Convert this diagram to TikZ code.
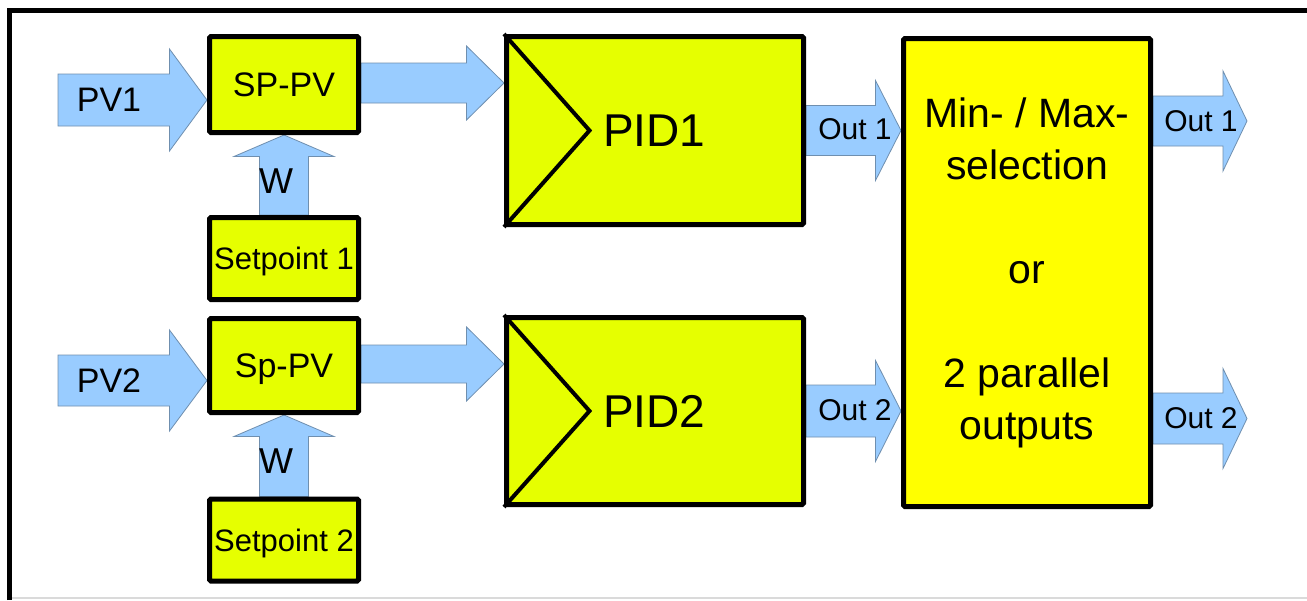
\documentclass[tikz,border=0pt]{standalone}
\usepackage{fontspec}
\setmainfont{Liberation Sans}
\usetikzlibrary{calc}
\pgfdeclarelayer{bg}
\pgfsetlayers{bg,main}
\definecolor{arrowblue}{HTML}{99CCFF}
\definecolor{arrowedge}{HTML}{6F8FAF}
\definecolor{boxyellow}{HTML}{E6FF00}
\definecolor{bigyellow}{HTML}{FFFF00}
\definecolor{framegray}{HTML}{DADADA}
% horizontal block arrow: start, end, shaft half width, head half width, head length
\newcommand\harrow[5]{%
  \begin{pgfonlayer}{bg}
  \filldraw[blockarrow] let \p1=(#1), \p2=(#2) in
    (\x1,\y1+#3pt) -- (\x2-#5pt,\y1+#3pt) -- (\x2-#5pt,\y1+#4pt) -- (\x2,\y1)
    -- (\x2-#5pt,\y1-#4pt) -- (\x2-#5pt,\y1-#3pt) -- (\x1,\y1-#3pt) -- cycle;
  \end{pgfonlayer}}
% vertical (upward) block arrow
\newcommand\varrow[5]{%
  \begin{pgfonlayer}{bg}
  \filldraw[blockarrow] let \p1=(#1), \p2=(#2) in
    (\x1+#3pt,\y1) -- (\x1+#3pt,\y2-#5pt) -- (\x1+#4pt,\y2-#5pt) -- (\x1,\y2)
    -- (\x1-#4pt,\y2-#5pt) -- (\x1-#3pt,\y2-#5pt) -- (\x1-#3pt,\y1) -- cycle;
  \end{pgfonlayer}}
\tikzset{
  blockarrow/.style={fill=arrowblue, draw=arrowedge, line width=0.8pt, line join=miter},
  ybox/.style={draw=black, fill=boxyellow, line width=5pt, rounded corners=1.5pt,
    inner sep=0pt, text depth=0pt},
  smallbox/.style={ybox, minimum width=149pt, font=\fontsize{34}{40}\selectfont},
  setbox/.style={ybox, minimum width=149pt, minimum height=82pt, font=\fontsize{31}{36}\selectfont},
  pidbox/.style={ybox, minimum width=297pt, minimum height=188pt},
  lbl/.style={inner sep=0pt, text depth=0pt},
  pvlbl/.style={lbl, font=\fontsize{34}{40}\selectfont},
  wlbl/.style={lbl, font=\fontsize{36}{42}\selectfont},
  outlbl/.style={lbl, font=\fontsize{30}{36}\selectfont},
  pidlbl/.style={lbl, font=\fontsize{46}{54}\selectfont},
  tri/.style={line width=4pt, line join=miter}
}
\begin{document}
\begin{tikzpicture}[x=1pt,y=-1pt]
\useasboundingbox (0,0) rectangle (1307,600);
\begin{pgfonlayer}{bg}
\fill[white] (0,0) rectangle (1307,600);
\end{pgfonlayer}
% frame
\draw[framegray, line width=2pt] (9.5,598) -- (1307,598);
\draw[line width=5pt] (9.5,600) -- (9.5,10.5) -- (1310,10.5);

% boxes
\node[smallbox, minimum height=96pt] (sp1) at (284,84.5) {SP-PV};
\node[setbox] (set1) at (284,258.5) {Setpoint 1};
\node[smallbox, minimum height=94pt] (sp2) at (284,365.5) {Sp-PV};
\node[setbox] (set2) at (284,540) {Setpoint 2};
\node[pidbox] (pid1) at (655,130.5) {};
\node[pidbox, minimum height=187pt] (pid2) at (655,411) {};
\node[ybox, fill=bigyellow, minimum width=247pt, minimum height=468pt,
      align=center, font=\fontsize{41}{52}\selectfont, text depth=8pt] (big) at (1027,272.5)
      {Min- / Max-\\selection\\[52pt]or\\[52pt]2 parallel\\outputs};

% PID triangles
\draw[tri] (pid1.north west) -- ($(pid1.west)+(85.5,0)$) -- (pid1.south west);
\draw[tri] (pid2.north west) -- ($(pid2.west)+(85.5,0)$) -- (pid2.south west);
\node[pidlbl, anchor=west] (pid1t) at (603,131) {PID1};
\node[pidlbl, anchor=west] (pid2t) at (603,411) {PID2};

% arrow end coordinates
\coordinate (pv1in) at (58,100);
\coordinate (pv2in) at (58,380.5);
\coordinate (m1s) at ($(sp1.east)+(0,-1.5)$);
\coordinate (m2s) at ($(sp2.east)+(0,-1.5)$);
\coordinate (o1s) at ($(big.east)+(0,-151.5)$);
\coordinate (o2s) at ($(big.east)+(0,146)$);
\coordinate (o1e) at (1247,121);
\coordinate (o2e) at (1247,418.5);

% arrows
\harrow{pv1in}{sp1.west}{26}{51}{37.5}
\harrow{pv2in}{sp2.west}{25.5}{50.5}{37.5}
\varrow{set1.north}{sp1.south}{24.5}{50}{21.5}
\varrow{set2.north}{sp2.south}{24.5}{50}{21.5}
\harrow{m1s}{pid1.west}{20}{37}{37.5}
\harrow{m2s}{pid2.west}{19}{37}{37.5}
\harrow{pid1.east}{big.west}{25}{50}{25.5}
\harrow{pid2.east}{big.west}{26}{50.5}{25.5}
\harrow{o1s}{o1e}{25}{50}{24}
\harrow{o2s}{o2e}{25.5}{50}{24}

% arrow labels
\node[pvlbl] (pv1l) at (109,100) {PV1};
\node[pvlbl] (pv2l) at (109,380.5) {PV2};
\node[wlbl] (w1l) at (276,181) {W};
\node[wlbl] (w2l) at (276,461) {W};
\node[outlbl] (o1l) at (855,129.5) {Out 1};
\node[outlbl] (o2l) at (855,410) {Out 2};
\node[outlbl] (o3l) at (1201,121.5) {Out 1};
\node[outlbl] (o4l) at (1201,418) {Out 2};
\end{tikzpicture}
\end{document}
